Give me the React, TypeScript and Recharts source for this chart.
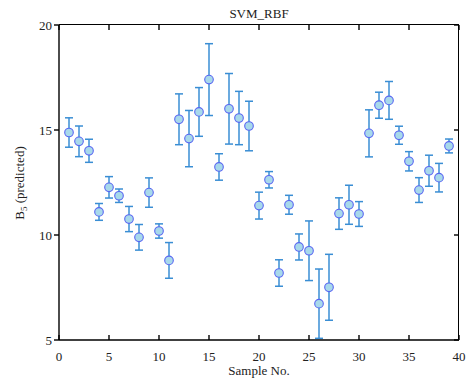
import { ScatterChart, Scatter, XAxis, YAxis, ErrorBar } from 'recharts'

const samples = [1, 2, 3, 4, 5, 6, 7, 8, 9, 10, 11, 12, 13, 14, 15, 16, 17, 18, 19, 20, 21, 22, 23, 24, 25, 26, 27, 28, 29, 30, 31, 32, 33, 34, 35, 36, 37, 38, 39]
const predicted = [14.88, 14.46, 14.01, 11.1, 12.27, 11.87, 10.76, 9.89, 12.02, 10.19, 8.79, 15.51, 14.59, 15.86, 17.4, 13.24, 16.01, 15.57, 15.19, 11.4, 12.63, 8.19, 11.44, 9.43, 9.25, 6.73, 7.51, 11.02, 11.44, 11.0, 14.84, 16.18, 16.41, 14.75, 13.51, 12.14, 13.06, 12.73, 14.24]
const errors = [0.7, 0.73, 0.55, 0.4, 0.51, 0.32, 0.6, 0.61, 0.7, 0.34, 0.85, 1.21, 1.34, 1.16, 1.71, 0.63, 1.68, 1.27, 1.18, 0.64, 0.39, 0.63, 0.45, 0.62, 1.42, 1.65, 1.57, 0.75, 0.93, 0.59, 1.12, 0.62, 0.9, 0.43, 0.46, 0.59, 0.74, 0.68, 0.33]
const xTicks = [0, 5, 10, 15, 20, 25, 30, 35, 40]
const yTicks = [5, 10, 15, 20]
const X_DOMAIN = [0, 40]
const Y_DOMAIN = [5, 20]

const data = samples.map((x, i) => ({ x, y: predicted[i], err: errors[i] }))

const W = 469
const H = 383
const PLOT = { left: 59, top: 25, right: 459, bottom: 340 }

const FONT = '"Times New Roman", "Liberation Serif", serif'
const TICK = { fontSize: 13, fill: '#222', fontFamily: FONT }
const AXIS = { stroke: '#000', strokeWidth: 1.4 }
const BAR_COLOR = '#3a8ed4'
const TICK_LEN = 5

const Dot = (props: any) => (
  <circle cx={props.cx} cy={props.cy} r={4.3} fill="#a8d9ea" stroke="#5865f2" strokeWidth={1.1} />
)

// same linear mapping as the chart's plot box, used for the frame ticks only
const px = (v: number) => PLOT.left + ((v - X_DOMAIN[0]) / (X_DOMAIN[1] - X_DOMAIN[0])) * (PLOT.right - PLOT.left)
const py = (v: number) => PLOT.bottom - ((v - Y_DOMAIN[0]) / (Y_DOMAIN[1] - Y_DOMAIN[0])) * (PLOT.bottom - PLOT.top)

// inward ticks on top, right and bottom edges
const FrameTicks = () => (
  <svg width={W} height={H} style={{ position: 'absolute', left: 0, top: 0, zIndex: 5, display: 'block', pointerEvents: 'none' }}>
    {xTicks.map((t) => (
      <g key={`x${t}`}>
        <line x1={px(t)} x2={px(t)} y1={PLOT.top} y2={PLOT.top + TICK_LEN} {...AXIS} />
        <line x1={px(t)} x2={px(t)} y1={PLOT.bottom} y2={PLOT.bottom - TICK_LEN} {...AXIS} />
      </g>
    ))}
    {yTicks.map((t) => (
      <line key={`y${t}`} x1={PLOT.right - TICK_LEN} x2={PLOT.right} y1={py(t)} y2={py(t)} {...AXIS} />
    ))}
  </svg>
)

export default function App() {
  return (
    <div style={{ position: 'absolute', left: 0, top: 0, width: W, height: H, background: '#fff', fontFamily: FONT }}>
      <ScatterChart
        width={W}
        height={H}
        margin={{ top: PLOT.top, right: W - PLOT.right, bottom: 0, left: 0 }}
      >
        <XAxis
          dataKey="x"
          type="number"
          domain={X_DOMAIN}
          ticks={xTicks}
          height={H - PLOT.bottom}
          tick={TICK}
          tickLine={false}
          tickSize={0}
          tickMargin={12}
          axisLine={AXIS}
        />
        <YAxis
          dataKey="y"
          type="number"
          domain={Y_DOMAIN}
          ticks={yTicks}
          width={PLOT.left}
          tick={TICK}
          tickSize={TICK_LEN}
          tickMargin={2}
          tickLine={AXIS}
          axisLine={AXIS}
        />
        <Scatter data={data} shape={Dot} isAnimationActive={false}>
          <ErrorBar dataKey="err" direction="y" width={4} stroke={BAR_COLOR} strokeWidth={1.5} isAnimationActive={false} />
        </Scatter>
      </ScatterChart>
      {/* top + right edges of the box */}
      <div
        style={{
          position: 'absolute',
          left: PLOT.left,
          top: PLOT.top - 1,
          width: PLOT.right - PLOT.left,
          height: PLOT.bottom - PLOT.top,
          borderTop: '1.5px solid #000',
          borderRight: '1.5px solid #000',
          boxSizing: 'border-box',
          pointerEvents: 'none',
          zIndex: 4,
        }}
      />
      <FrameTicks />
      <div style={{ position: 'absolute', left: PLOT.left, width: PLOT.right - PLOT.left, top: 6, textAlign: 'center', fontSize: 13, color: '#222', lineHeight: '16px' }}>
        SVM_RBF
      </div>
      <div style={{ position: 'absolute', left: PLOT.left, width: PLOT.right - PLOT.left, top: 363, textAlign: 'center', fontSize: 13, color: '#222', lineHeight: '16px' }}>
        Sample No.
      </div>
      <div
        style={{
          position: 'absolute',
          left: 22,
          top: 183,
          transform: 'translate(-50%, -50%) rotate(-90deg)',
          whiteSpace: 'nowrap',
          fontSize: 13,
          color: '#222',
          lineHeight: '16px',
        }}
      >
        B<sub style={{ fontSize: 9 }}>5</sub> (predicted)
      </div>
    </div>
  )
}
